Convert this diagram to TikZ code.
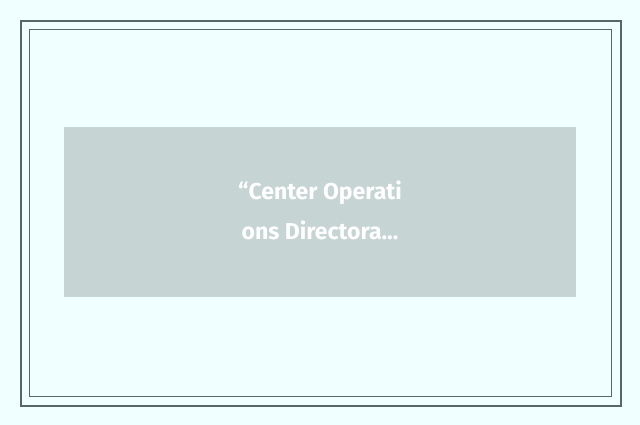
\documentclass[tikz,border=0pt]{standalone}
\usepackage{fontspec}
\setmainfont{Fira Sans}
\usepackage{xcolor}
\usepackage{tikz}
\usetikzlibrary{positioning,calc}

\definecolor{pagebg}{HTML}{F0FFFF}
\definecolor{frameline}{HTML}{566767}
\definecolor{bannerfill}{HTML}{C6D4D4}

\begin{document}
\begin{tikzpicture}[x=1pt,y=-1pt]
    % Page
    \useasboundingbox[fill=pagebg] (0,0) rectangle (640,425);

    % Double frame
    \draw[frameline, line width=2pt] (21,21) rectangle (621,405.5);
    \draw[frameline, line width=1pt] (29.5,29.5) rectangle (611.5,396.5);

    % Banner
    \draw[fill=bannerfill, draw=none] (64,127) rectangle (576,297);
    \node[text=white, font=\fontsize{23}{40}\selectfont\bfseries, align=center,
          inner sep=0pt] (title) at (320,210) {“Center Operati\\ons Directora…};
\end{tikzpicture}
\end{document}
